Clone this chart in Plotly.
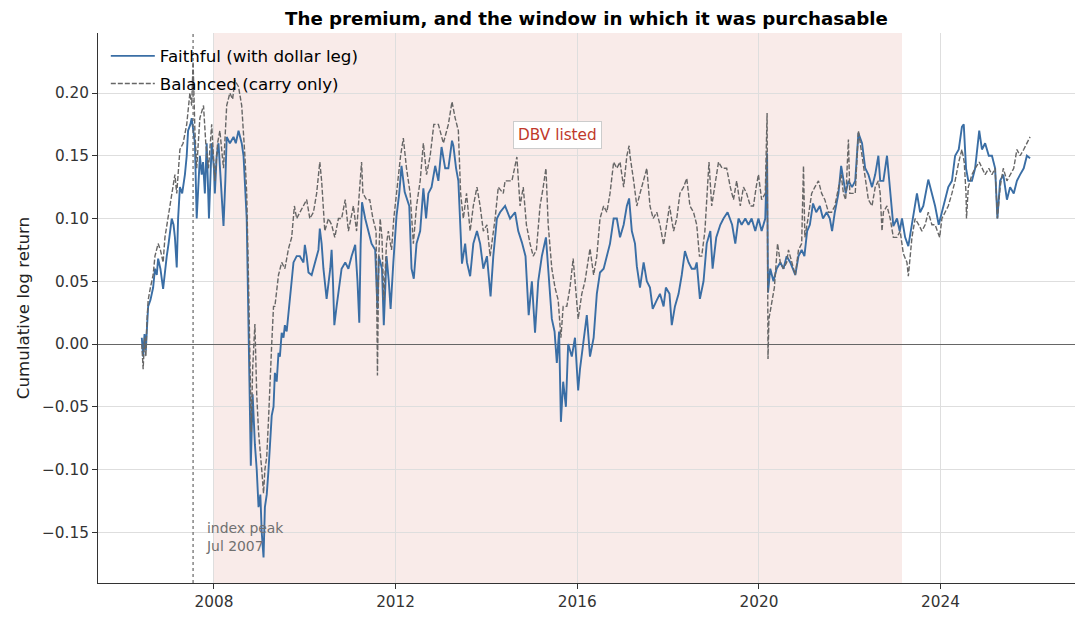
import datetime as dt
import plotly.graph_objects as go

# ---- data (decimal year, cumulative log return) ----
faithful_t = [
    2006.41, 2006.44, 2006.47, 2006.50, 2006.52, 2006.55, 2006.60, 2006.66, 2006.70, 2006.74,
    2006.77, 2006.82, 2006.88, 2006.92, 2006.96, 2007.00, 2007.04, 2007.07, 2007.11, 2007.14,
    2007.18, 2007.21, 2007.25, 2007.30, 2007.36, 2007.40, 2007.43, 2007.48, 2007.51, 2007.55,
    2007.58, 2007.62, 2007.66, 2007.69, 2007.73, 2007.76, 2007.80, 2007.84, 2007.89, 2007.92,
    2007.95, 2008.00, 2008.02, 2008.06, 2008.10, 2008.15, 2008.21, 2008.25, 2008.28, 2008.35,
    2008.43, 2008.48, 2008.54, 2008.61, 2008.65, 2008.72, 2008.76, 2008.78, 2008.81, 2008.83,
    2008.85, 2008.90, 2008.94, 2008.98, 2009.02, 2009.05, 2009.09, 2009.12, 2009.16, 2009.20,
    2009.23, 2009.27, 2009.31, 2009.34, 2009.38, 2009.42, 2009.45, 2009.49, 2009.53, 2009.56,
    2009.60, 2009.64, 2009.67, 2009.71, 2009.75, 2009.82, 2009.89, 2009.97, 2010.00, 2010.04,
    2010.08, 2010.15, 2010.22, 2010.30, 2010.33, 2010.37, 2010.41, 2010.48, 2010.56, 2010.59,
    2010.62, 2010.65, 2010.70, 2010.74, 2010.81, 2010.89, 2010.96, 2011.03, 2011.11, 2011.16,
    2011.20, 2011.23, 2011.26, 2011.33, 2011.40, 2011.47, 2011.55, 2011.60, 2011.63, 2011.66,
    2011.70, 2011.74, 2011.77, 2011.80, 2011.85, 2011.89, 2011.95, 2012.02, 2012.08, 2012.13,
    2012.20, 2012.30, 2012.35, 2012.40, 2012.46, 2012.54, 2012.61, 2012.67, 2012.72, 2012.79,
    2012.87, 2012.94, 2013.01, 2013.09, 2013.16, 2013.24, 2013.27, 2013.33, 2013.38, 2013.46,
    2013.53, 2013.57, 2013.64, 2013.71, 2013.79, 2013.86, 2013.93, 2014.01, 2014.09, 2014.15,
    2014.23, 2014.30, 2014.41, 2014.52, 2014.63, 2014.70, 2014.78, 2014.86, 2014.93, 2015.00,
    2015.07, 2015.14, 2015.22, 2015.31, 2015.36, 2015.44, 2015.50, 2015.55, 2015.60, 2015.64,
    2015.69, 2015.75, 2015.80, 2015.88, 2015.95, 2016.02, 2016.06, 2016.13, 2016.21, 2016.28,
    2016.36, 2016.43, 2016.50, 2016.58, 2016.65, 2016.72, 2016.80, 2016.87, 2016.94, 2017.02,
    2017.09, 2017.14, 2017.20, 2017.27, 2017.31, 2017.38, 2017.46, 2017.53, 2017.60, 2017.66,
    2017.75, 2017.82, 2017.90, 2017.95, 2018.03, 2018.08, 2018.15, 2018.23, 2018.30, 2018.37,
    2018.45, 2018.52, 2018.59, 2018.63, 2018.70, 2018.78, 2018.85, 2018.93, 2018.98, 2019.06,
    2019.15, 2019.22, 2019.31, 2019.41, 2019.48, 2019.55, 2019.62, 2019.70, 2019.77, 2019.84,
    2019.92, 2019.99, 2020.06, 2020.14, 2020.18, 2020.20, 2020.25, 2020.32, 2020.39, 2020.47,
    2020.54, 2020.61, 2020.69, 2020.80, 2020.87, 2020.94, 2021.00, 2021.06, 2021.12, 2021.19,
    2021.26, 2021.34, 2021.41, 2021.49, 2021.56, 2021.61, 2021.67, 2021.75, 2021.81, 2021.86,
    2021.91, 2021.97, 2022.05, 2022.12, 2022.19, 2022.27, 2022.34, 2022.41, 2022.49, 2022.56,
    2022.63, 2022.67, 2022.74, 2022.82, 2022.89, 2022.96, 2023.04, 2023.10, 2023.15, 2023.22,
    2023.29, 2023.37, 2023.44, 2023.48, 2023.55, 2023.62, 2023.73, 2023.81, 2023.88, 2023.96,
    2024.03, 2024.10, 2024.17, 2024.25, 2024.32, 2024.40, 2024.47, 2024.51, 2024.56, 2024.61,
    2024.69, 2024.76, 2024.85, 2024.91, 2024.98, 2025.06, 2025.13, 2025.20, 2025.25, 2025.31,
    2025.38, 2025.46, 2025.53, 2025.61, 2025.68, 2025.75, 2025.83, 2025.90, 2025.97,
]
faithful_v = [
    0.005, -0.010, 0.008, -0.005, 0.010, 0.030, 0.035, 0.045, 0.060, 0.055,
    0.068, 0.060, 0.044, 0.060, 0.070, 0.080, 0.090, 0.100, 0.095, 0.085,
    0.061, 0.100, 0.125, 0.120, 0.135, 0.150, 0.170, 0.175, 0.180, 0.170,
    0.160, 0.100, 0.130, 0.150, 0.135, 0.145, 0.120, 0.160, 0.100, 0.130,
    0.160, 0.140, 0.120, 0.150, 0.160, 0.130, 0.094, 0.130, 0.165, 0.160,
    0.165, 0.160, 0.170, 0.160, 0.150, 0.100, 0.030, -0.030, -0.097, -0.050,
    -0.040, -0.080, -0.100, -0.130, -0.120, -0.150, -0.170, -0.130, -0.120, -0.100,
    -0.080, -0.057, -0.050, -0.023, -0.030, -0.007, -0.010, 0.009, 0.005, 0.015,
    0.010, 0.025, 0.035, 0.055, 0.065, 0.070, 0.070, 0.065, 0.079, 0.070,
    0.057, 0.055, 0.065, 0.075, 0.092, 0.080, 0.060, 0.036, 0.060, 0.075,
    0.050, 0.015, 0.030, 0.040, 0.060, 0.065, 0.060, 0.070, 0.079, 0.050,
    0.017, 0.080, 0.113, 0.100, 0.090, 0.080, 0.075, 0.028, 0.070, 0.066,
    0.060, 0.015, 0.050, 0.070, 0.050, 0.028, 0.065, 0.102, 0.120, 0.142,
    0.121, 0.110, 0.060, 0.052, 0.080, 0.090, 0.124, 0.100, 0.120, 0.125,
    0.142, 0.130, 0.157, 0.140, 0.140, 0.162, 0.158, 0.140, 0.130, 0.064,
    0.080, 0.065, 0.054, 0.080, 0.090, 0.080, 0.060, 0.070, 0.038, 0.070,
    0.100, 0.105, 0.110, 0.100, 0.105, 0.090, 0.081, 0.070, 0.023, 0.050,
    0.009, 0.050, 0.070, 0.085, 0.060, 0.020, 0.010, -0.015, 0.010, -0.062,
    -0.030, -0.050, 0.000, -0.010, 0.005, -0.037, -0.020, 0.000, 0.023, -0.010,
    0.005, 0.040, 0.057, 0.060, 0.070, 0.080, 0.100, 0.100, 0.085, 0.095,
    0.110, 0.116, 0.090, 0.080, 0.062, 0.045, 0.065, 0.050, 0.045, 0.028,
    0.035, 0.040, 0.030, 0.045, 0.040, 0.015, 0.030, 0.040, 0.055, 0.074,
    0.065, 0.060, 0.060, 0.065, 0.036, 0.050, 0.080, 0.090, 0.060, 0.085,
    0.095, 0.100, 0.105, 0.095, 0.080, 0.100, 0.095, 0.100, 0.095, 0.100,
    0.090, 0.100, 0.090, 0.100, 0.152, 0.041, 0.060, 0.050, 0.060, 0.065,
    0.060, 0.070, 0.065, 0.055, 0.070, 0.075, 0.070, 0.090, 0.095, 0.112,
    0.105, 0.110, 0.100, 0.105, 0.100, 0.090, 0.105, 0.120, 0.142, 0.130,
    0.120, 0.130, 0.125, 0.130, 0.168, 0.160, 0.140, 0.135, 0.125, 0.135,
    0.150, 0.130, 0.130, 0.150, 0.120, 0.094, 0.100, 0.090, 0.100, 0.085,
    0.078, 0.095, 0.112, 0.120, 0.105, 0.110, 0.131, 0.120, 0.110, 0.095,
    0.105, 0.115, 0.125, 0.130, 0.150, 0.155, 0.173, 0.175, 0.140, 0.130,
    0.130, 0.140, 0.170, 0.155, 0.160, 0.150, 0.150, 0.140, 0.100, 0.130,
    0.135, 0.115, 0.125, 0.120, 0.130, 0.135, 0.140, 0.150, 0.148,
]

balanced_t = [
    2006.41, 2006.44, 2006.47, 2006.50, 2006.52, 2006.55, 2006.60, 2006.66, 2006.70, 2006.77,
    2006.82, 2006.88, 2006.92, 2006.99, 2007.07, 2007.14, 2007.18, 2007.25, 2007.32, 2007.40,
    2007.47, 2007.51, 2007.54, 2007.58, 2007.62, 2007.69, 2007.77, 2007.82, 2007.88, 2007.95,
    2008.02, 2008.08, 2008.13, 2008.21, 2008.28, 2008.35, 2008.41, 2008.46, 2008.54, 2008.61,
    2008.68, 2008.72, 2008.76, 2008.79, 2008.82, 2008.85, 2008.90, 2008.94, 2008.98, 2009.05,
    2009.09, 2009.12, 2009.16, 2009.20, 2009.23, 2009.27, 2009.31, 2009.34, 2009.42, 2009.49,
    2009.56, 2009.64, 2009.71, 2009.77, 2009.82, 2009.89, 2009.97, 2010.04, 2010.11, 2010.19,
    2010.26, 2010.33, 2010.37, 2010.44, 2010.52, 2010.59, 2010.66, 2010.74, 2010.81, 2010.89,
    2010.96, 2011.07, 2011.14, 2011.19, 2011.25, 2011.28, 2011.36, 2011.43, 2011.50, 2011.57,
    2011.60, 2011.63, 2011.66, 2011.70, 2011.74, 2011.80, 2011.84, 2011.91, 2011.96, 2012.02,
    2012.11, 2012.17, 2012.24, 2012.32, 2012.39, 2012.46, 2012.54, 2012.61, 2012.68, 2012.76,
    2012.84, 2012.94, 2013.05, 2013.16, 2013.24, 2013.31, 2013.38, 2013.43, 2013.49, 2013.56,
    2013.64, 2013.71, 2013.79, 2013.86, 2013.93, 2014.01, 2014.08, 2014.19, 2014.26, 2014.37,
    2014.41, 2014.48, 2014.56, 2014.67, 2014.74, 2014.81, 2014.88, 2014.96, 2015.03, 2015.10,
    2015.18, 2015.25, 2015.31, 2015.36, 2015.44, 2015.51, 2015.58, 2015.64, 2015.69, 2015.77,
    2015.84, 2015.91, 2015.98, 2016.02, 2016.10, 2016.17, 2016.28, 2016.36, 2016.43, 2016.50,
    2016.58, 2016.65, 2016.72, 2016.80, 2016.87, 2016.94, 2017.02, 2017.09, 2017.14, 2017.16,
    2017.24, 2017.31, 2017.38, 2017.46, 2017.53, 2017.60, 2017.67, 2017.75, 2017.82, 2017.90,
    2017.97, 2018.03, 2018.12, 2018.19, 2018.26, 2018.34, 2018.41, 2018.48, 2018.56, 2018.63,
    2018.69, 2018.74, 2018.81, 2018.86, 2018.90, 2018.96, 2019.04, 2019.11, 2019.19, 2019.29,
    2019.37, 2019.44, 2019.51, 2019.59, 2019.66, 2019.73, 2019.81, 2019.88, 2019.94, 2019.99,
    2020.06, 2020.14, 2020.18, 2020.20, 2020.22, 2020.28, 2020.34, 2020.41, 2020.47, 2020.54,
    2020.61, 2020.65, 2020.72, 2020.80, 2020.87, 2020.94, 2020.98, 2021.01, 2021.08, 2021.16,
    2021.23, 2021.31, 2021.38, 2021.45, 2021.53, 2021.60, 2021.67, 2021.75, 2021.81, 2021.86,
    2021.91, 2021.97, 2022.00, 2022.05, 2022.12, 2022.19, 2022.27, 2022.34, 2022.41, 2022.49,
    2022.56, 2022.63, 2022.67, 2022.71, 2022.74, 2022.82, 2022.89, 2022.96, 2023.04, 2023.11,
    2023.18, 2023.26, 2023.29, 2023.37, 2023.44, 2023.52, 2023.59, 2023.66, 2023.73, 2023.81,
    2023.88, 2023.98, 2024.03, 2024.10, 2024.17, 2024.25, 2024.32, 2024.40, 2024.47, 2024.52,
    2024.56, 2024.57, 2024.61, 2024.69, 2024.76, 2024.85, 2024.91, 2024.98, 2025.06, 2025.13,
    2025.20, 2025.25, 2025.31, 2025.38, 2025.46, 2025.53, 2025.61, 2025.68, 2025.75, 2025.83,
    2025.90, 2025.97,
]
balanced_v = [
    0.000, -0.020, 0.005, -0.010, 0.015, 0.035, 0.045, 0.055, 0.070, 0.080,
    0.075, 0.065, 0.085, 0.100, 0.120, 0.135, 0.120, 0.155, 0.160, 0.175,
    0.200, 0.190, 0.225, 0.170, 0.140, 0.180, 0.190, 0.160, 0.140, 0.175,
    0.130, 0.160, 0.170, 0.140, 0.190, 0.200, 0.195, 0.210, 0.205, 0.190,
    0.150, 0.120, 0.050, -0.030, -0.070, -0.020, 0.016, -0.040, -0.070, -0.100,
    -0.119, -0.100, -0.090, -0.060, -0.030, 0.000, 0.030, 0.030, 0.055, 0.065,
    0.060, 0.076, 0.085, 0.110, 0.100, 0.105, 0.110, 0.115, 0.100, 0.105,
    0.120, 0.145, 0.130, 0.090, 0.100, 0.095, 0.085, 0.100, 0.100, 0.115,
    0.090, 0.110, 0.090, 0.115, 0.145, 0.120, 0.115, 0.115, 0.100, 0.090,
    -0.025, 0.070, 0.100, 0.085, 0.035, 0.080, 0.090, 0.075, 0.100, 0.120,
    0.150, 0.164, 0.140, 0.120, 0.080, 0.110, 0.130, 0.160, 0.135, 0.150,
    0.175, 0.175, 0.160, 0.175, 0.193, 0.180, 0.170, 0.120, 0.100, 0.120,
    0.090, 0.110, 0.125, 0.110, 0.090, 0.095, 0.070, 0.100, 0.125, 0.120,
    0.130, 0.130, 0.130, 0.149, 0.110, 0.125, 0.095, 0.080, 0.070, 0.075,
    0.110, 0.125, 0.140, 0.095, 0.060, 0.045, 0.035, 0.005, 0.030, 0.030,
    0.045, 0.068, 0.040, 0.020, 0.040, 0.050, 0.076, 0.055, 0.070, 0.100,
    0.110, 0.105, 0.120, 0.145, 0.140, 0.145, 0.125, 0.150, 0.158, 0.150,
    0.130, 0.110, 0.120, 0.130, 0.140, 0.110, 0.100, 0.105, 0.095, 0.079,
    0.095, 0.110, 0.090, 0.100, 0.120, 0.125, 0.132, 0.110, 0.105, 0.095,
    0.070, 0.070, 0.090, 0.120, 0.145, 0.110, 0.130, 0.145, 0.140, 0.140,
    0.125, 0.115, 0.130, 0.110, 0.125, 0.120, 0.110, 0.110, 0.125, 0.135,
    0.115, 0.120, 0.184, -0.012, 0.020, 0.031, 0.045, 0.080, 0.065, 0.060,
    0.065, 0.075, 0.065, 0.055, 0.075, 0.080, 0.142, 0.085, 0.100, 0.120,
    0.125, 0.130, 0.120, 0.115, 0.105, 0.105, 0.110, 0.125, 0.135, 0.120,
    0.115, 0.163, 0.120, 0.120, 0.120, 0.170, 0.150, 0.135, 0.115, 0.110,
    0.125, 0.130, 0.120, 0.090, 0.105, 0.110, 0.100, 0.085, 0.085, 0.090,
    0.072, 0.065, 0.054, 0.085, 0.100, 0.095, 0.090, 0.095, 0.105, 0.095,
    0.095, 0.085, 0.100, 0.105, 0.110, 0.120, 0.130, 0.145, 0.155, 0.145,
    0.120, 0.100, 0.125, 0.135, 0.140, 0.145, 0.140, 0.135, 0.140, 0.135,
    0.140, 0.100, 0.125, 0.140, 0.130, 0.135, 0.140, 0.155, 0.150, 0.155,
    0.160, 0.165,
]

series_names = ["Faithful (with dollar leg)", "Balanced (carry only)"]
year_ticks = [2008, 2012, 2016, 2020, 2024]
y_ticks = [-0.15, -0.10, -0.05, 0.00, 0.05, 0.10, 0.15, 0.20]
window_start, window_end = 2008.0, 2023.15
index_peak = 2007.54
dbv_label_pos = (2015.56, 0.1665)


def to_date(y):
    yr = int(y)
    start = dt.datetime(yr, 1, 1)
    days = (dt.datetime(yr + 1, 1, 1) - start).total_seconds()
    return start + dt.timedelta(seconds=(y - yr) * days)


FONT = "DejaVu Sans"
BLUE = "#3a6ea5"
GREY = "#666666"
TICKFONT = dict(family=FONT, size=15.3, color="#333333")

fig = go.Figure()
fig.add_trace(go.Scatter(
    x=[to_date(t) for t in faithful_t], y=faithful_v, mode="lines",
    name=series_names[0], legendgroup="f", line=dict(color=BLUE, width=1.9),
))
fig.add_trace(go.Scatter(
    x=[to_date(t) for t in balanced_t], y=balanced_v, mode="lines",
    name=series_names[1], legendgroup="b",
    line=dict(color=GREY, width=1.4, dash="5px,2px"),
))

fig.add_vrect(x0=to_date(window_start), x1=to_date(window_end),
              fillcolor="rgba(192,57,43,0.10)", line_width=0, layer="below")
fig.add_shape(type="line", x0=to_date(index_peak), x1=to_date(index_peak),
              y0=0, y1=1, yref="paper", layer="above",
              line=dict(color="#666666", width=1.2, dash="dot"))

fig.add_annotation(x=to_date(index_peak), y=-0.154, xshift=11,
                   text="index peak<br>Jul 2007", showarrow=False,
                   xanchor="left", yanchor="middle", align="left",
                   font=dict(family=FONT, size=13.9, color="#707070"))
fig.add_annotation(x=to_date(dbv_label_pos[0]), y=dbv_label_pos[1],
                   text="DBV listed", showarrow=False,
                   xanchor="center", yanchor="middle",
                   bgcolor="white", bordercolor="#cccccc", borderwidth=1,
                   borderpad=4,
                   font=dict(family=FONT, size=15.3, color="#c0392b"))

# page body adds an 8px offset, so margins are compensated
fig.update_layout(
    width=1085, height=623,
    margin=dict(l=90, r=18, t=25, b=48),
    paper_bgcolor="white", plot_bgcolor="white",
    font=dict(family=FONT, size=15.3, color="#333333"),
    title=dict(text="<b>The premium, and the window in which it was purchasable</b>",
               x=578.5 / 1085, xanchor="center", xref="container",
               y=1 - 11 / 623, yanchor="middle", yref="container",
               font=dict(family=FONT, size=18.2, color="black")),
    showlegend=True,
    legend=dict(x=0.008, y=0.99, xanchor="left", yanchor="top",
                bgcolor="rgba(0,0,0,0)", font=dict(family=FONT, size=16.7, color="black"),
                itemwidth=44, tracegroupgap=3),
)
fig.update_xaxes(
    range=[to_date(2005.445), to_date(2026.96)],
    tickvals=[dt.datetime(y, 1, 1) for y in year_ticks],
    ticktext=[str(y) for y in year_ticks],
    tickfont=TICKFONT,
    showgrid=True, gridcolor="#dedede", gridwidth=1,
    showline=True, linecolor="#333333", linewidth=1,
    ticks="outside", ticklen=5, tickcolor="#333333",
    zeroline=False,
)
fig.update_yaxes(
    range=[-0.1904, 0.2478],
    tickvals=y_ticks, tickformat=".2f",
    tickfont=TICKFONT,
    showgrid=True, gridcolor="#dedede", gridwidth=1,
    showline=True, linecolor="#333333", linewidth=1,
    ticks="outside", ticklen=5, tickcolor="#333333",
    zeroline=True, zerolinecolor="#666666", zerolinewidth=1,
    title=dict(text="Cumulative log return", font=dict(family=FONT, size=16.7, color="#222222"),
               standoff=8),
)

fig.write_html("out.html")
